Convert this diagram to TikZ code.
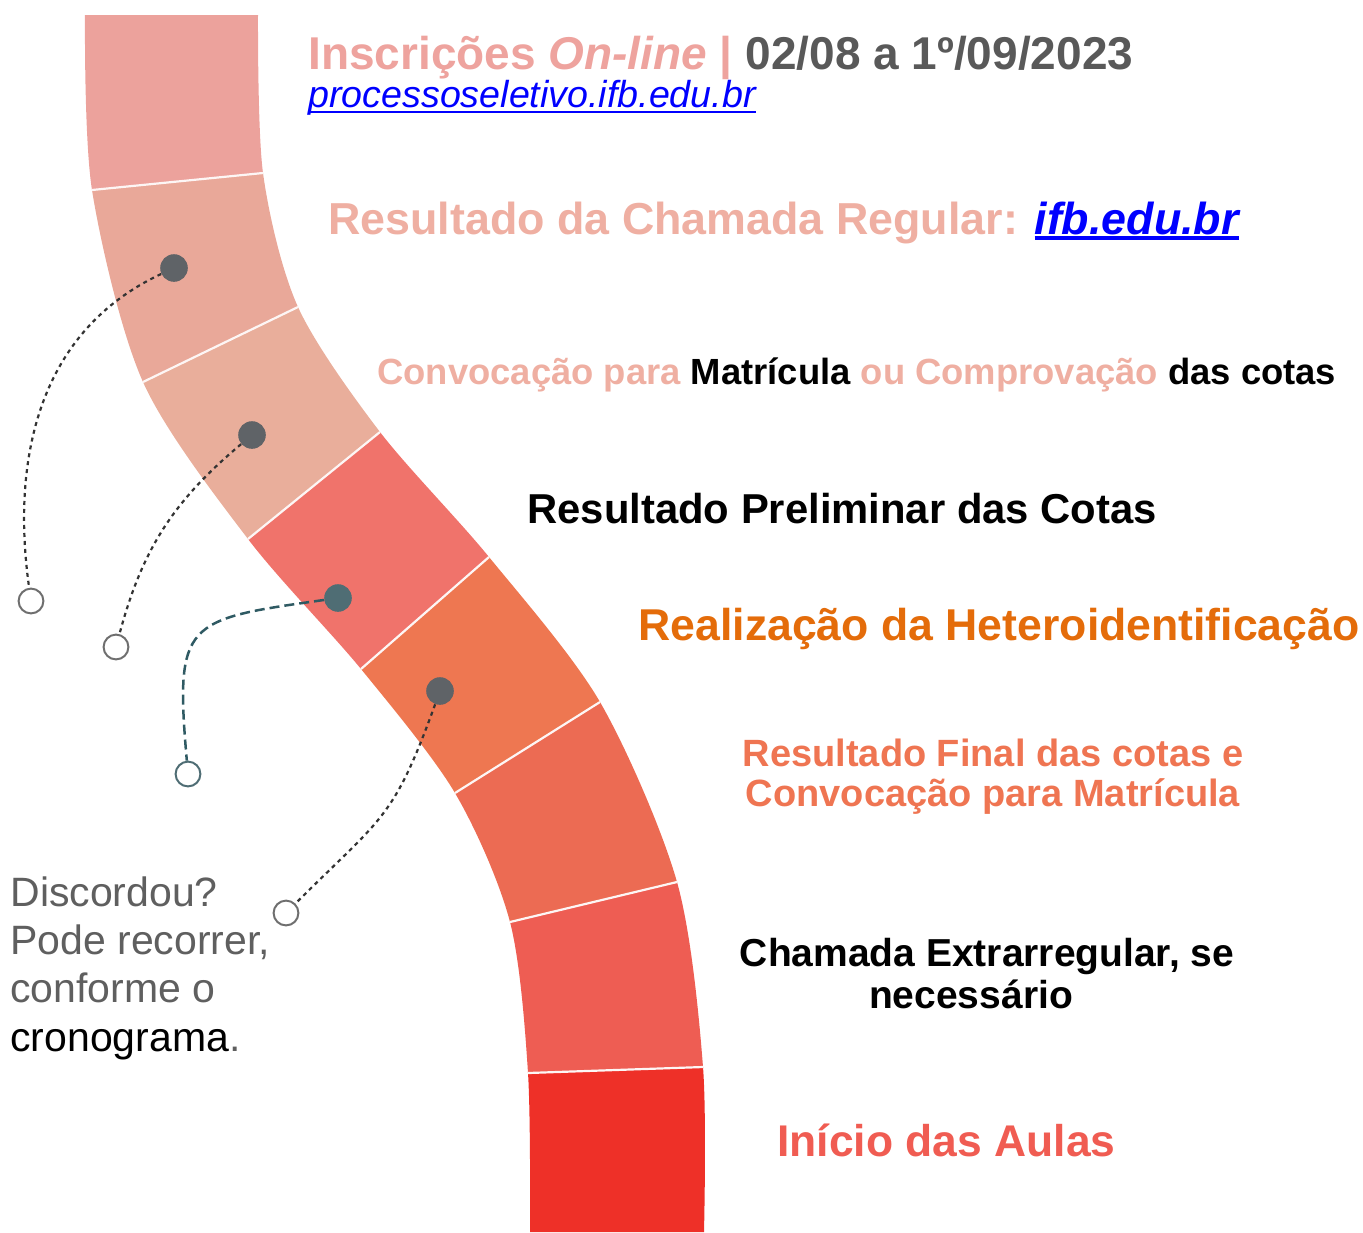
\documentclass[tikz,border=0pt]{standalone}
\usepackage{fontspec}
\setmainfont{Liberation Sans}
\usepackage{xcolor}
\usepackage{tikz}
\usetikzlibrary{calc}

\definecolor{segA}{HTML}{ECA29C}
\definecolor{segB}{HTML}{E9A899}
\definecolor{segC}{HTML}{E9AE9B}
\definecolor{segD}{HTML}{F0736B}
\definecolor{segE}{HTML}{EE7751}
\definecolor{segF}{HTML}{EC6B53}
\definecolor{segG}{HTML}{EE5D53}
\definecolor{segH}{HTML}{EE3028}
\definecolor{pinktxt}{HTML}{EEA39E}
\definecolor{pinklite}{HTML}{EFAFA2}
\definecolor{datetxt}{HTML}{595959}
\definecolor{linkblue}{HTML}{0000FF}
\definecolor{orangetxt}{HTML}{E46C0A}
\definecolor{finaltxt}{HTML}{EF7552}
\definecolor{aulastxt}{HTML}{F05C52}
\definecolor{graytxt}{HTML}{5F5F5F}
\definecolor{dotgray}{HTML}{5F6367}
\definecolor{dotteal}{HTML}{4F6D74}
\definecolor{ringgray}{HTML}{6F6F6F}
\definecolor{linkteal}{HTML}{2F5A63}

% underlined link: depth, thickness, text
\newcommand{\linkul}[3]{\setbox0\hbox{#3}\rlap{\color{linkblue}\rule[-#1]{\wd0}{#2}}\box0}

\begin{document}
\begin{tikzpicture}[x=0.5pt,y=-0.5pt,
        stopdot/.style = {circle, fill=dotgray, minimum size=13.8pt, inner sep=0},
        endring/.style = {circle, draw=ringgray, line width=1pt, minimum size=12.4pt, inner sep=0},
        dotlink/.style = {draw=black!80, line width=1.1pt, dash pattern=on 2pt off 2pt},
        label/.style = {anchor=base west, inner sep=0}
        ]
    \useasboundingbox (0,0) rectangle (1363,1232);

    % ribbon edges
    \foreach \n/\lx/\ly/\rx/\ry in {0/85/15/258/15, 1/92/190/263/173, 2/143/382/298/307,
            3/248/539/380/432, 4/361/669/489/557, 5/455/793/600/702,
            6/510/922/677/882, 7/528/1073/703/1067, 8/530/1232/704/1232}{
        \coordinate (L\n) at (\lx,\ly);
        \coordinate (R\n) at (\rx,\ry);
    }

    \begin{scope}
    \clip plot[smooth] coordinates {(L0) (L1) (L2) (L3) (L4) (L5) (L6) (L7) (L8)}
        -- plot[smooth] coordinates {(R8) (R7) (R6) (R5) (R4) (R3) (R2) (R1) (R0)} -- cycle;
    \foreach \i/\c in {0/segA,1/segB,2/segC,3/segD,4/segE,5/segF,6/segG,7/segH}{
        \pgfmathtruncatemacro\j{\i+1}
        \fill[\c] ($(L\i)!-0.4!(R\i)$) -- ($(R\i)!-0.4!(L\i)$) -- ($(R\j)!-0.4!(L\j)$) -- ($(L\j)!-0.4!(R\j)$) -- cycle;
    }
    \foreach \i in {1,...,7}
        \draw[white!90!segA, line width=1.1pt] ($(L\i)!-0.2!(R\i)$) -- ($(R\i)!-0.2!(L\i)$);
    \end{scope}

    % dots and rings
    \node[stopdot] (d1) at (174,268) {};
    \node[stopdot] (d2) at (252,435) {};
    \node[stopdot, fill=dotteal] (d3) at (338,598) {};
    \node[stopdot] (d4) at (440,691) {};
    \node[endring] (r1) at (31,601) {};
    \node[endring] (r2) at (116,647) {};
    \node[endring, draw=dotteal] (r3) at (188,774) {};
    \node[endring] (r4) at (286,913) {};

    \draw[dotlink] (d1) to[out=205, in=98] (r1);
    \draw[dotlink] (d2) to[out=220, in=75] (r2);
    \draw[dotlink, draw=linkteal, line width=1.25pt, dash pattern=on 5pt off 2.5pt] (d3) to[out=188, in=95, looseness=1.7] (r3);
    \draw[dotlink] (d4) to[out=250, in=45, looseness=1.3] (r4);

    % labels
    \node[label, font=\fontsize{23}{28}\selectfont\bfseries, text=pinktxt] (title) at (308,69) {Inscrições \textit{On-line} | \color{datetxt}02/08 a 1º/09/2023};
    \node[label, font=\fontsize{18.8}{22}\selectfont\itshape, text=linkblue] (site) at (308,107) {\linkul{3pt}{1pt}{processoseletivo.ifb.edu.br}};
    \node[label, font=\fontsize{22.4}{27}\selectfont\bfseries, text=pinklite] (regular) at (328,234) {Resultado da Chamada Regular: \color{linkblue}\itshape\linkul{3pt}{2pt}{ifb.edu.br}};
    \node[label, font=\fontsize{18.2}{22}\selectfont\bfseries] (convoc) at (377,384) {{\color{pinklite}Convocação para} Matrícula {\color{pinklite}ou Comprovação} das cotas};
    \node[label, font=\fontsize{20.9}{25}\selectfont\bfseries] (prelim) at (527,523) {Resultado Preliminar das Cotas};
    \node[label, font=\fontsize{22.3}{27}\selectfont\bfseries, text=orangetxt] (hetero) at (638,640) {Realização da Heteroidentificação};
    \node[anchor=north, inner sep=0, align=center, font=\fontsize{19}{20}\selectfont\bfseries, text=finaltxt] (final) at (993,739) {Resultado Final das cotas e\\Convocação para Matrícula};
    \node[anchor=north, inner sep=0, align=center, font=\fontsize{19.5}{21}\selectfont\bfseries] (extra) at (987,938) {Chamada Extrarregular, se\\necessário\hspace*{16pt}};
    \node[label, font=\fontsize{22.2}{27}\selectfont\bfseries, text=aulastxt] (aulas) at (777,1156) {Início das Aulas};
    \node[anchor=north west, inner sep=0, align=left, font=\fontsize{20.5}{24.2}\selectfont, text=graytxt] (recurso) at (10,876) {Discordou?\\Pode recorrer,\\conforme o\\{\color{black}cronograma}.};
\end{tikzpicture}
\end{document}
